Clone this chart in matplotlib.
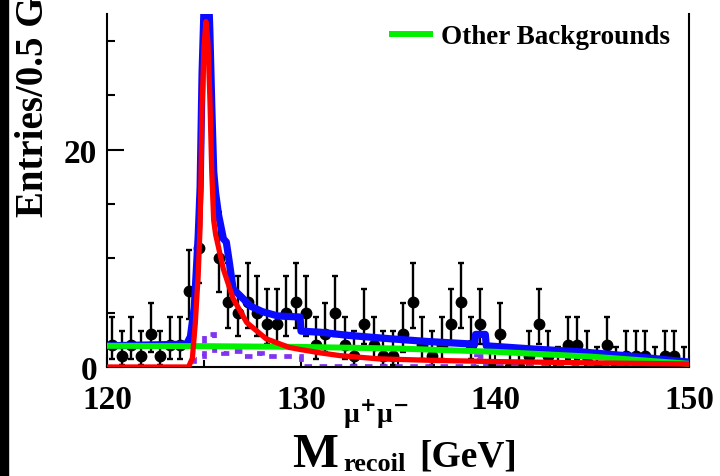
import numpy as np
import matplotlib
matplotlib.use('Agg')
import matplotlib.pyplot as plt
from matplotlib.patches import Rectangle
from matplotlib.lines import Line2D
from matplotlib.ticker import MultipleLocator

plt.rcParams['font.family'] = 'Liberation Serif'
plt.rcParams['font.weight'] = 'bold'

# data: 60 bins of 0.5 GeV from 120 to 150
bin_centers = np.arange(120.25, 150.0, 0.5)
counts = [2, 1, 2, 1, 3, 1, 2, 2, 7, 11,
          36, 10, 6, 5, 6, 5, 4, 4, 5, 6,
          5, 2, 3, 5, 2, 1, 4, 2, 1, 1,
          3, 6, 2, 1, 2, 4, 6, 2, 4, 0,
          3, 0, 0, 1, 4, 1, 0, 2, 2, 1,
          0, 2, 0, 1, 1, 1, 0, 1, 1, 0]

# poisson (garwood 68%) interval limits for small counts
garwood_lo = [0, 0.173, 0.708, 1.367, 2.086, 2.840, 3.620, 4.419, 5.232, 6.057, 6.891, 7.734]
garwood_hi = [1.841, 3.300, 4.638, 5.918, 7.163, 8.382, 9.584, 10.77, 11.95, 13.11, 14.27, 15.42]

# signal (red)
sig_x = [120, 124.2, 124.4, 124.55, 124.7, 124.8, 124.9, 125.0, 125.1, 125.2, 125.3, 125.4,
         125.5, 125.6, 125.75, 126.0, 126.5, 127.2, 128.2, 129.4, 130.0, 131.0, 132.0, 134.0,
         137.0, 140.0, 145.0, 150.0]
sig_y = [0, 0, 0.8, 4, 8.5, 13, 24, 29.5, 31.8, 30, 25, 18,
         13.5, 12.2, 11, 9, 6.3, 4.1, 2.6, 1.8, 1.6, 1.3, 1.05, 0.75,
         0.6, 0.5, 0.38, 0.28]

# total fit (blue)
tot_x = [120, 124.1, 124.3, 124.5, 124.7, 124.8, 124.9, 125.0, 125.1, 125.2, 125.3, 125.4,
         125.5, 125.6, 125.75, 126.0, 126.15, 126.3, 126.5, 126.9, 127.4, 128.0, 128.8, 129.95,
         130.0, 131.0, 132.5, 134.6, 136.5, 138.95, 139.0, 139.5, 139.55, 142.0, 144.4, 147.0, 150.0]
tot_y = [1.95, 2.1, 2.8, 5.5, 12, 16.5, 27, 33, 35, 36, 31, 24,
         18, 16, 14, 11.8, 11.5, 9.7, 7.2, 6.5, 5.6, 5.1, 4.7, 4.6,
         3.3, 3.2, 2.9, 2.6, 2.35, 2.1, 3.0, 3.0, 1.95, 1.65, 1.4, 1.0, 0.45]

# other backgrounds (green)
bkg_x = [120, 125, 130, 135, 140, 145, 150]
bkg_y = [1.95, 1.92, 1.85, 1.7, 1.4, 0.95, 0.3]

# zz background histogram (purple dashed)
zz_edges = [120, 124.5, 125.0, 125.5, 126.0, 126.5, 127.0, 127.5, 128.0, 129.0, 130.0, 139.0, 139.5, 150]
zz_vals = [0, 1.0, 3.0, 1.6, 1.3, 1.5, 1.0, 1.3, 1.0, 1.0, 0.1, 1.0, 0.1]

fig = plt.figure(figsize=(7.2, 4.77), dpi=100)
ax = fig.add_axes([107/720, 1 - 368/477, (689-107)/720, (368-15)/477])

# error bars
lo = []
hi = []
for n in counts:
    if n < len(garwood_lo):
        lo.append(n - garwood_lo[n])
        hi.append(garwood_hi[n] - n)
    else:
        lo.append(np.sqrt(n))
        hi.append(np.sqrt(n) + 1)
ax.errorbar(bin_centers, counts, yerr=[lo, hi], fmt='o', color='black', ms=7.5,
            elinewidth=1.7, capsize=2.5, capthick=1.7, zorder=1)

ax.stairs(zz_vals, zz_edges, color='#8033f0', lw=3.4, ls=(0, (1.6, 1.6)), zorder=2)
ax.plot(tot_x, tot_y, color='#0a0aff', lw=5.2, zorder=3)
ax.plot(bkg_x, bkg_y, color='#00f000', lw=4.3, zorder=4)
ax.plot(sig_x, sig_y, color='#ff0000', lw=3.8, zorder=5)

ax.set_xlim(120, 150)
ax.set_ylim(0, 32.5)
ax.spines['top'].set_visible(False)
for s in ['left', 'right', 'bottom']:
    ax.spines[s].set_linewidth(1.5)

ax.xaxis.set_major_locator(MultipleLocator(10))
ax.xaxis.set_minor_locator(MultipleLocator(5))
ax.yaxis.set_major_locator(MultipleLocator(20))
ax.yaxis.set_minor_locator(MultipleLocator(5))
ax.tick_params(which='both', direction='in', top=False, right=False, width=1.5,
               labelsize=24)
ax.tick_params(axis='y', which='major', length=12, pad=7)
ax.tick_params(axis='y', which='minor', length=6)
ax.tick_params(axis='x', which='major', length=9, pad=12)
ax.tick_params(axis='x', which='minor', length=5)

leg = ax.legend([Line2D([], [], color='#00f000', lw=4.3)], ['Other Backgrounds'],
                loc='center left', bbox_to_anchor=(392/720, 1 - 38/477),
                bbox_transform=fig.transFigure, frameon=False, fontsize=19.5,
                handlelength=1.4, handletextpad=0.4, borderpad=0, borderaxespad=0)

# axis titles
fig.text(34/720, 1 - 217/477, 'Entries/0.5 GeV', rotation=90, ha='center', va='bottom',
         fontsize=28)
fig.text(292/720, 1 - 467/477, 'M', ha='left', va='baseline', fontsize=35)
fig.text(343/720, 1 - 423/477, '\u03bc$^{+}$\u03bc$^{-}$', ha='left', va='baseline', fontsize=20)
fig.text(343/720, 1 - 471/477, 'recoil', ha='left', va='baseline', fontsize=19)
fig.text(419/720, 1 - 467/477, '[GeV]', ha='left', va='baseline', fontsize=27)

# dark strip at the left border
fig.patches.append(Rectangle((0, 0), 8/720, 1, transform=fig.transFigure,
                             color='black', zorder=10))

fig.savefig('out.png', dpi=100)
